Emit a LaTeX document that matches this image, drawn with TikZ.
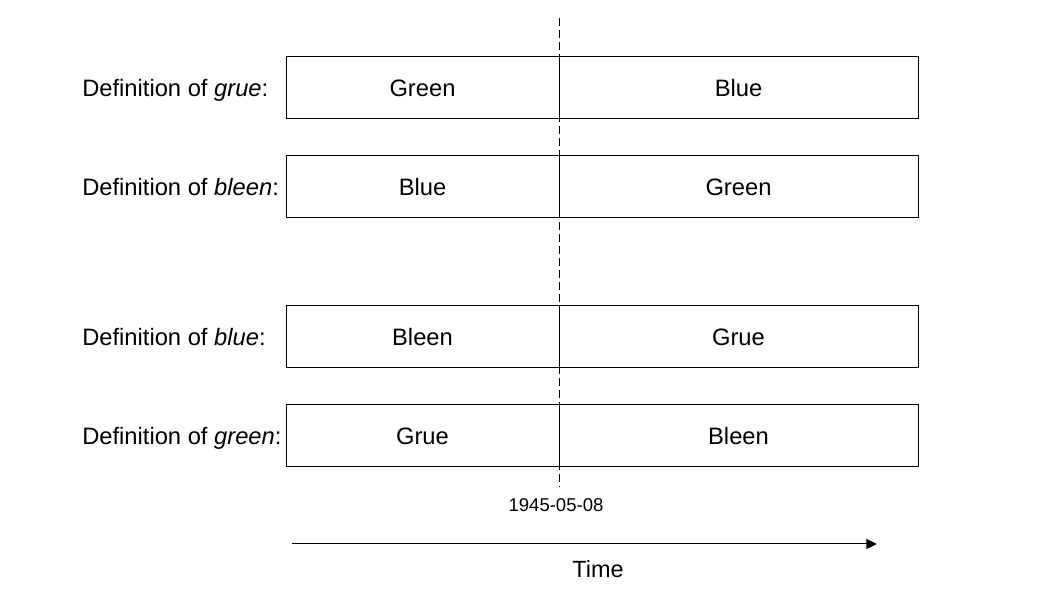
\documentclass[tikz,border=0pt]{standalone}
\usepackage{fontspec}
\setmainfont{Liberation Sans}
\usetikzlibrary{shapes,arrows.meta,positioning}

\begin{document}
\begin{tikzpicture}[x=0.75pt,y=-0.75pt,
    capcentre/.style={text height=#1,text depth=0pt},
    leftcell/.style={rectangle,draw,line width=0.75pt,minimum width=204.75pt,minimum height=46.5pt,font=\fontsize{17.8}{20}\selectfont,capcentre=12.75pt},
    rightcell/.style={rectangle,draw,line width=0.75pt,minimum width=269.25pt,minimum height=46.5pt,font=\fontsize{17.8}{20}\selectfont,capcentre=12.75pt},
    deflabel/.style={anchor=west,inner sep=0pt,font=\fontsize{17.8}{20}\selectfont,capcentre=12.75pt}]

       \useasboundingbox (0,0) rectangle (1058,595);

       \coordinate (cuttop) at (559,18);
       \coordinate (cutbot) at (559,487);
       \draw [line width=0.75pt,dash pattern=on 6pt off 3pt] (cuttop) -- (cutbot);

       \node [deflabel]  (l1) at (82,88) {Definition of \textit{grue}:};
       \node [leftcell]  (g1) at (422.5,88) {Green};
       \node [rightcell] (g2) at (738.5,88) {Blue};

       \node [deflabel]  (l2) at (82,187) {Definition of \textit{bleen}:};
       \node [leftcell]  (b1) at (422.5,187) {Blue};
       \node [rightcell] (b2) at (738.5,187) {Green};

       \node [deflabel]  (l3) at (82,337) {Definition of \textit{blue}:};
       \node [leftcell]  (u1) at (422.5,337) {Bleen};
       \node [rightcell] (u2) at (738.5,337) {Grue};

       \node [deflabel]  (l4) at (82,436) {Definition of \textit{green}:};
       \node [leftcell]  (n1) at (422.5,436) {Grue};
       \node [rightcell] (n2) at (738.5,436) {Bleen};

       \node [font=\fontsize{13.9}{16}\selectfont,capcentre=9.95pt] (date) at (556,505) {1945-05-08};

       \coordinate (tstart) at (292,544);
       \coordinate (tend) at (877,544);
       \draw [line width=0.75pt,-{Triangle[length=8pt,width=7.5pt]}] (tstart) -- (tend);
       \node [font=\fontsize{17.6}{20}\selectfont,capcentre=12.6pt] (time) at (598,569) {Time};
\end{tikzpicture}
\end{document}
